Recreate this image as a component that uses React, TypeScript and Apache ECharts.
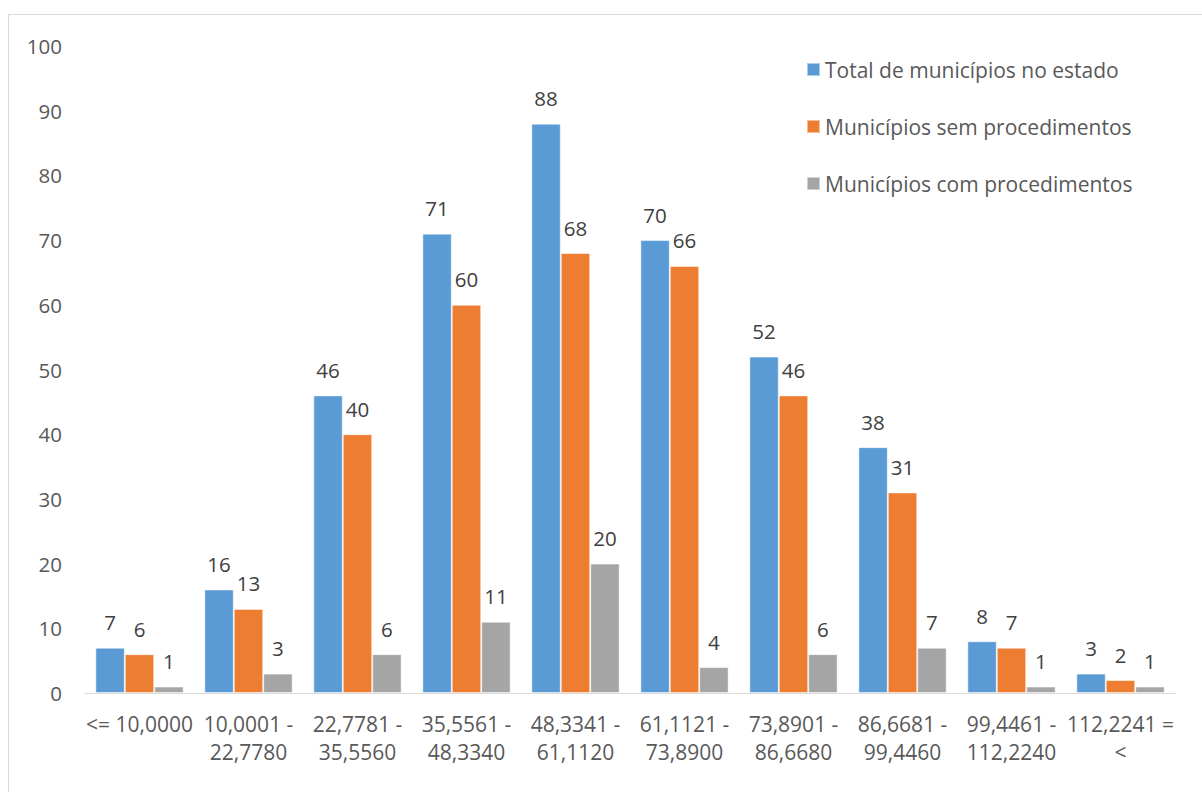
import React, { useEffect, useRef } from "react";
import * as echarts from "echarts";

const categories = [
  "<= 10,0000",
  "10,0001 -\n22,7780",
  "22,7781 -\n35,5560",
  "35,5561 -\n48,3340",
  "48,3341 -\n61,1120",
  "61,1121 -\n73,8900",
  "73,8901 -\n86,6680",
  "86,6681 -\n99,4460",
  "99,4461 -\n112,2240",
  "112,2241 =\n<",
];
const totalMunicipios = [7, 16, 46, 71, 88, 70, 52, 38, 8, 3];
const semProcedimentos = [6, 13, 40, 60, 68, 66, 46, 31, 7, 2];
const comProcedimentos = [1, 3, 6, 11, 20, 4, 6, 7, 1, 1];
const seriesNames = [
  "Total de municípios no estado",
  "Municípios sem procedimentos",
  "Municípios com procedimentos",
];
const colors = ["#5b9bd5", "#ed7d31", "#a5a5a5"];

const FONT = "Open Sans";

export default function App() {
  const ref = useRef<HTMLDivElement>(null);
  useEffect(() => {
    if (!ref.current) return;
    const chart = echarts.init(ref.current, null, { renderer: "svg" });
    const mk = (name: string, data: number[], color: string) => ({
      name,
      type: "bar",
      data,
      barGap: "0%",
      barCategoryGap: "19%",
      itemStyle: { color, borderColor: "rgba(255,255,255,0.5)", borderWidth: 1 },
      label: {
        show: true,
        position: "top",
        distance: 15,
        color: "#404040",
        fontSize: 20.5,
        fontFamily: FONT,
      },
    });
    chart.setOption({
      animation: false,
      backgroundColor: "#ffffff",
      textStyle: { fontFamily: FONT },
      graphic: [
        {
          type: "rect",
          shape: { x: 8.5, y: 14.5, width: 1200, height: 800 },
          style: { fill: "none", stroke: "#d9d9d9", lineWidth: 1 },
          silent: true,
        },
      ],
      legend: {
        orient: "vertical",
        left: 801,
        top: 54,
        itemGap: 36,
        itemWidth: 13,
        itemHeight: 13,
        icon: "rect",
        textStyle: { fontSize: 21, color: "#595959", fontFamily: FONT },
        data: seriesNames,
      },
      grid: { left: 85, right: 27, top: 46, bottom: 99, containLabel: false },
      xAxis: {
        type: "category",
        data: categories,
        axisLine: { show: true, lineStyle: { color: "#d9d9d9", width: 1 } },
        axisTick: { show: false },
        axisLabel: {
          color: "#595959",
          fontSize: 21,
          fontFamily: FONT,
          lineHeight: 28,
          margin: 17,
          interval: 0,
        },
      },
      yAxis: {
        type: "value",
        min: 0,
        max: 100,
        interval: 10,
        splitLine: { show: false },
        axisLine: { show: false },
        axisTick: { show: false },
        axisLabel: { color: "#595959", fontSize: 20.5, fontFamily: FONT, margin: 23 },
      },
      series: [
        mk(seriesNames[0], totalMunicipios, colors[0]),
        mk(seriesNames[1], semProcedimentos, colors[1]),
        mk(seriesNames[2], comProcedimentos, colors[2]),
      ],
    });
    return () => chart.dispose();
  }, []);
  return (
    <div
      ref={ref}
      style={{ position: "fixed", left: 0, top: 0, width: 1202, height: 792 }}
    />
  );
}
